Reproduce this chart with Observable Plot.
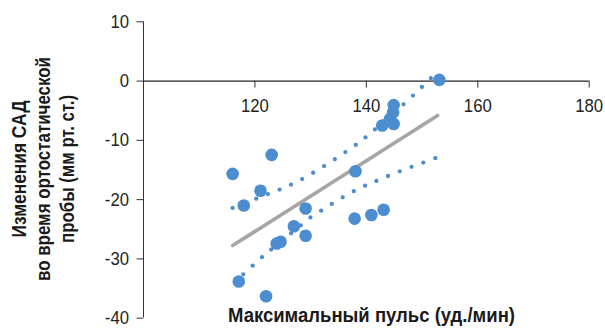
<!DOCTYPE html>
<html><head><meta charset="utf-8">
<script src="https://cdn.jsdelivr.net/npm/d3@7"></script>
<script src="https://cdn.jsdelivr.net/npm/@observablehq/plot@0.6"></script>
<style>
html,body{margin:0;padding:0;background:#fff;}
#chart{width:605px;height:329px;position:relative;}
</style></head><body><div id="chart"></div>
<script>
// Patients: maximal pulse (beats/min) vs change of systolic BP (mm Hg)
const pulse = [116.0, 118.0, 121.0, 123.0, 117.1, 122.0, 123.9, 124.6, 127.0, 129.1, 129.1,
               138.05, 137.9, 140.9, 143.1, 142.85, 144.9, 144.25, 144.8, 144.9, 153.1];
const sad   = [-15.65, -21.0, -18.5, -12.45, -33.8, -36.3, -27.4, -27.1, -24.5, -21.5, -26.1,
               -15.2, -23.2, -22.6, -21.7, -7.5, -7.25, -6.4, -5.3, -4.05, 0.2];
// regression line and confidence band
const fitPulse = [116.0, 152.8];
const fitSad = [-27.75, -5.8];
const upperPulse = [116.0, 122.8, 129.3, 137.3, 141.1, 146.7, 151.7];
const upperSad   = [-21.4, -18.9, -16.1, -11.3, -8.5, -3.9, 0.6];
const lowerPulse = [117.9, 121.4, 123.2, 128.8, 130.8, 136.9, 141.2, 145.5, 152.4];
const lowerSad   = [-32.6, -29.6, -28.2, -23.9, -22.5, -19.0, -17.1, -15.4, -13.0];
const xTicks = [120, 140, 160, 180];
const yTicks = [10, 0, -10, -20, -30, -40];
const xDomain = [100, 180];
const yDomain = [-40, 10];
const yTitle = ["Изменения САД", "во время ортостатической", "пробы (мм рт. ст.)"];
const xTitle = "Максимальный пульс (уд./мин)";

const points = pulse.map((p, i) => ({p, s: sad[i]}));
const fit = fitPulse.map((p, i) => ({p, s: fitSad[i]}));
const upper = upperPulse.map((p, i) => ({p, s: upperSad[i]}));
const lower = lowerPulse.map((p, i) => ({p, s: lowerSad[i]}));

const W = 605, H = 329;
const mT = 21.3, mB = 11.3, mL = 143, mR = 16.3;
const frameH = H - mT - mB;
const y0Shift = -frameH * (0 - yDomain[0]) / (yDomain[1] - yDomain[0]);

const font = "'Liberation Sans', Arial, sans-serif";
const blue = "#4b8dcf";

const chart = Plot.plot({
  width: W, height: H,
  marginTop: mT, marginBottom: mB, marginLeft: mL, marginRight: mR,
  style: {fontFamily: font, background: "#fff", color: "#222"},
  x: {domain: xDomain},
  y: {domain: yDomain},
  marks: [
    Plot.ruleX([xDomain[0]], {stroke: "#333", strokeWidth: 1}),
    Plot.ruleY([0], {stroke: "#222", strokeWidth: 1.1}),
    Plot.axisY({ticks: yTicks, tickSize: 6.5, tickPadding: 8, fontSize: 19, label: null,
                tickFormat: d => String(d), stroke: "#333", fill: "#222"}),
    Plot.axisX({ticks: xTicks, anchor: "bottom", dy: y0Shift, tickSize: 7, tickPadding: 10,
                fontSize: 19, label: null, tickFormat: d => String(d), stroke: "#333", fill: "#222"}),
    Plot.line(fit, {x: "p", y: "s", stroke: "#a6a6a6", strokeWidth: 3.6}),
    Plot.line(upper, {x: "p", y: "s", curve: "natural", stroke: blue, strokeWidth: 4.3,
                      strokeDasharray: "0 12.6", strokeLinecap: "round"}),
    Plot.line(lower, {x: "p", y: "s", curve: "natural", stroke: blue, strokeWidth: 4.3,
                      strokeDasharray: "0 12.6", strokeLinecap: "round"}),
    Plot.dot(points, {x: "p", y: "s", r: 6.3, fill: blue, stroke: "none"})
  ]
});

document.getElementById("chart").appendChild(chart);
const svg = d3.select(chart);

// condense tick labels (the original uses a condensed face)
svg.selectAll('g[aria-label="x-axis tick label"] text, g[aria-label="y-axis tick label"] text')
  .each(function() {
    const len = this.getComputedTextLength();
    this.setAttribute("lengthAdjust", "spacingAndGlyphs");
    this.setAttribute("textLength", (len * 0.88).toFixed(2));
  });

const g = svg.append("g").attr("transform", "rotate(-90)");
const baselines = [25.5, 49.5, 74];
const yLens = [137, 224, 148];
yTitle.forEach((t, i) => {
  g.append("text")
    .attr("x", -169).attr("y", baselines[i])
    .attr("text-anchor", "middle")
    .attr("font-family", font).attr("font-weight", "bold").attr("font-size", 20)
    .attr("fill", "#1a1a1a")
    .attr("textLength", yLens[i]).attr("lengthAdjust", "spacingAndGlyphs")
    .text(t);
});
svg.append("text")
  .attr("x", 371.5).attr("y", 321.7)
  .attr("text-anchor", "middle")
  .attr("font-family", font).attr("font-weight", "bold").attr("font-size", 20)
  .attr("fill", "#1a1a1a")
  .attr("textLength", 287).attr("lengthAdjust", "spacingAndGlyphs")
  .text(xTitle);
</script></body></html>
